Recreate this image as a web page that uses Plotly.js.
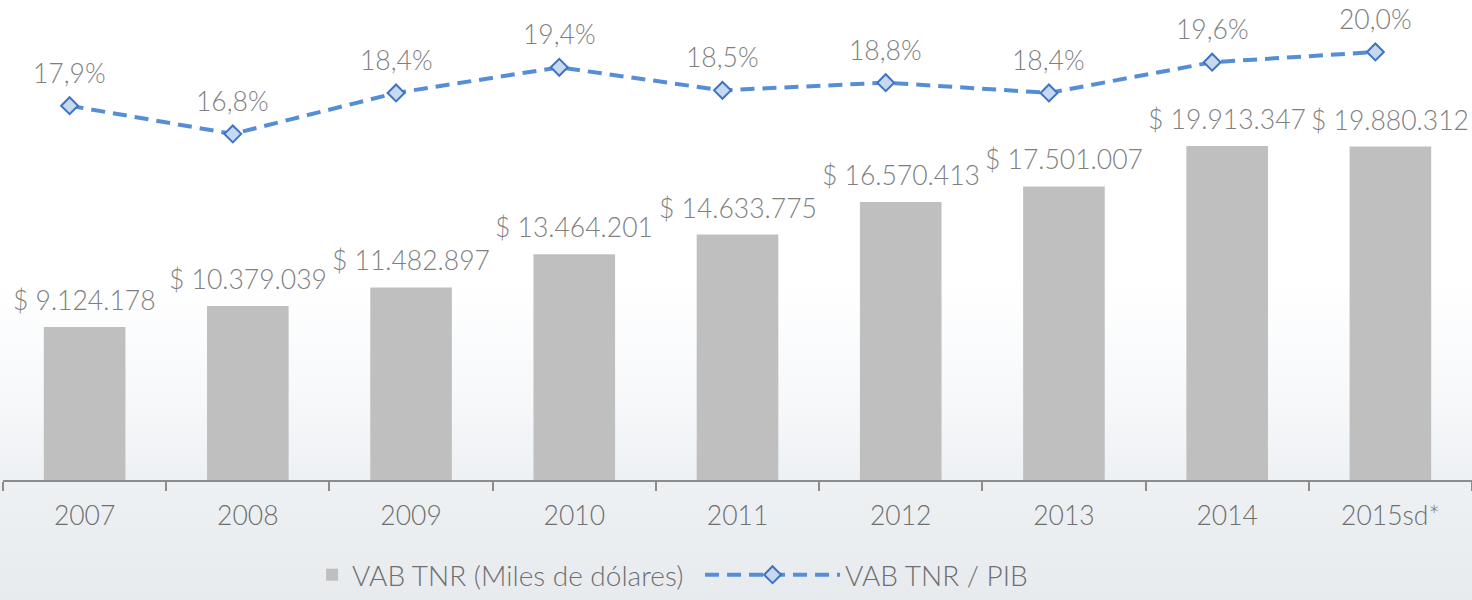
<!DOCTYPE html>
<html>
<head>
<meta charset="utf-8">
<script src="https://cdn.plot.ly/plotly-3.0.1.min.js"></script>
<style>
html,body{margin:0;padding:0;}
body{width:1472px;height:600px;overflow:hidden;
background:linear-gradient(to bottom,#ffffff 0px,#ffffff 280px,#f6f8fa 400px,#eef1f4 480px,#e8ebee 600px);}
#chart{width:1472px;height:600px;}
</style>
</head>
<body>
<div id="chart"></div>
<script>
const categories = ['2007','2008','2009','2010','2011','2012','2013','2014','2015sd*'];
const vabValues = [9124178, 10379039, 11482897, 13464201, 14633775, 16570413, 17501007, 19913347, 19880312];
const pibShare = [17.9, 16.8, 18.4, 19.4, 18.5, 18.8, 18.4, 19.6, 20.0];
const barName = 'VAB TNR (Miles de dólares)';
const lineName = 'VAB TNR / PIB';

const FONT = 'Lato, "Open Sans", sans-serif';
const labelColor = '#7f7f7f';

const bars = {
  type: 'bar', x: categories, y: vabValues, name: barName,
  marker: {color: '#bfbfbf'}, hoverinfo: 'skip', legend: 'legend'
};
const line = {
  type: 'scatter', mode: 'lines+markers', x: categories, y: pibShare, name: lineName,
  xaxis: 'x2', yaxis: 'y2', legend: 'legend2',
  line: {color: '#558ed5', width: 4, dash: '14px,8px'},
  marker: {symbol: 'diamond', size: 13, color: '#c6d9f1', line: {color: '#3f74c0', width: 2}},
  hoverinfo: 'skip'
};

function fmtThousands(v){
  return String(Math.round(v)).replace(/\B(?=(\d{3})+(?!\d))/g, '.');
}
const textFont = {family: FONT, size: 26.5, color: labelColor, weight: 300};
const annotations = [];
categories.forEach((c, i) => {
  annotations.push({
    x: i, y: vabValues[i], xref: 'x', yref: 'y',
    text: '$ ' + fmtThousands(vabValues[i]), showarrow: false,
    yanchor: 'bottom', yshift: 9, font: textFont
  });
  annotations.push({
    x: i, y: pibShare[i], xref: 'x2', yref: 'y2',
    text: pibShare[i].toFixed(1).replace('.', ',') + '%', showarrow: false,
    yanchor: 'bottom', yshift: 15, font: textFont
  });
});

const legendFont = {family: FONT, size: 28, color: '#6f6f6f', weight: 300};
const layout = {
  width: 1472, height: 600,
  margin: {l: 3, r: 0, t: 0, b: 120},
  paper_bgcolor: 'rgba(0,0,0,0)', plot_bgcolor: 'rgba(0,0,0,0)',
  font: {family: FONT, color: '#6f6f6f'},
  bargap: 0.5,
  showlegend: true,
  legend: {
    orientation: 'h', x: 0.2104, xanchor: 'left', y: -0.25, yanchor: 'bottom',
    font: legendFont, bgcolor: 'rgba(0,0,0,0)', itemwidth: 30
  },
  legend2: {
    orientation: 'h', x: 0.4745, xanchor: 'left', y: -0.25, yanchor: 'bottom',
    font: legendFont, bgcolor: 'rgba(0,0,0,0)', itemwidth: 135
  },
  xaxis: {
    type: 'category', automargin: false, range: [-0.5, 8.5], autorange: false,
    showline: true, linecolor: '#8c8c8c', linewidth: 2,
    ticks: 'outside', tickson: 'boundaries', ticklen: 9, tickcolor: '#8c8c8c', tickwidth: 2,
    tickfont: {family: FONT, size: 26.5, color: '#6f6f6f', weight: 300},
    ticklabelstandoff: 11, tickangle: 0,
    showgrid: false, zeroline: false
  },
  xaxis2: {
    type: 'category', overlaying: 'x', range: [-0.408, 8.592], autorange: false,
    visible: false, showgrid: false, zeroline: false
  },
  yaxis: {
    range: [0, 28620000], autorange: false, visible: false, showgrid: false, zeroline: false
  },
  yaxis2: {
    range: [3.28, 22.03], autorange: false, overlaying: 'y', side: 'right', visible: false,
    showgrid: false, zeroline: false
  },
  annotations: annotations
};

Plotly.newPlot('chart', [bars, line], layout, {displayModeBar: false, staticPlot: true});
</script>
</body>
</html>
